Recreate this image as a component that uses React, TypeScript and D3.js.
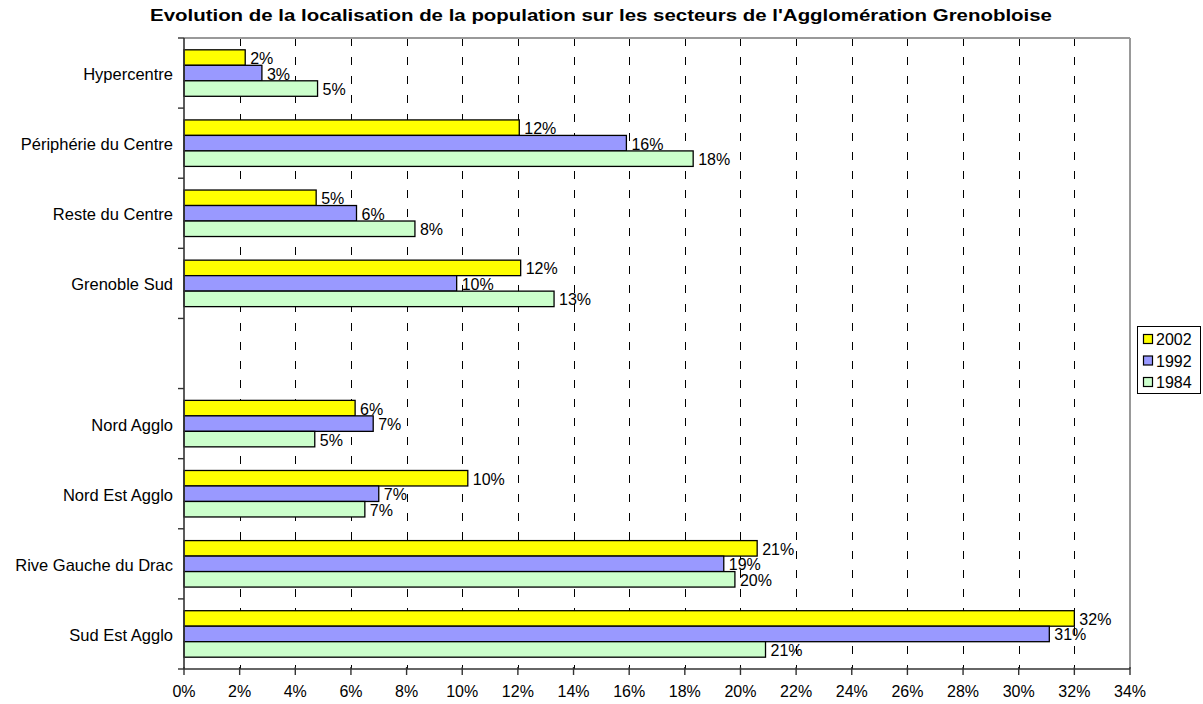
import React from "react";
import * as d3 from "d3";

const categories = [
  "Hypercentre",
  "Périphérie du Centre",
  "Reste du Centre",
  "Grenoble Sud",
  "",
  "Nord Agglo",
  "Nord Est Agglo",
  "Rive Gauche du Drac",
  "Sud Est Agglo",
];
const seriesNames = ["2002", "1992", "1984"];
const values2002 = [2.2, 12.05, 4.75, 12.1, null, 6.15, 10.2, 20.6, 32.0];
const values1992 = [2.8, 15.9, 6.2, 9.8, null, 6.8, 7.0, 19.4, 31.1];
const values1984 = [4.8, 18.3, 8.3, 13.3, null, 4.7, 6.5, 19.8, 20.9];
const seriesColors = ["#FFFF00", "#9999FF", "#CCFFCC"];
const xTickValues = [0, 2, 4, 6, 8, 10, 12, 14, 16, 18, 20, 22, 24, 26, 28, 30, 32, 34];
const title =
  "Evolution de la localisation de la population sur les secteurs de l'Agglomération Grenobloise";

const W = 1203;
const H = 704;
const FONT = "Arial, 'Liberation Sans', sans-serif";

export default function App() {
  const left = 184;
  const right = 1130;
  const top = 38;
  const bottom = 669;

  const series = [values2002, values1992, values1984];

  const x = d3.scaleLinear().domain([0, 34]).range([left, right]);
  const y = d3
    .scaleBand<number>()
    .domain(categories.map((_, i) => i))
    .range([top, bottom])
    .paddingInner(0.337)
    .paddingOuter(0.1685);
  const ySub = d3.scaleBand<string>().domain(seriesNames).range([0, y.bandwidth()]);
  const step = y.step();

  const boundaries = d3.range(categories.length + 1).map((i) => top + i * step);

  return (
    <svg
      width={W}
      height={H}
      style={{ position: "absolute", left: 0, top: 0, background: "#fff" }}
      fontFamily={FONT}
    >
      <rect x={0} y={0} width={W} height={H} fill="#fff" />
      <text
        x={150}
        y={21}
        fontSize={17}
        fontWeight="bold"
        fill="#000"
        textLength={902}
        lengthAdjust="spacingAndGlyphs"
      >
        {title}
      </text>

      {/* gridlines */}
      {xTickValues
        .filter((t) => t > 0 && t < 34)
        .map((t) => (
          <line
            key={"g" + t}
            x1={Math.round(x(t)) + 0.5}
            x2={Math.round(x(t)) + 0.5}
            y1={top}
            y2={bottom}
            stroke="#000"
            strokeWidth={1}
            strokeDasharray="8,11"
          />
        ))}

      {/* plot border top/right */}
      <line x1={left} x2={right} y1={top} y2={top} stroke="#999" strokeWidth={2} />
      <line x1={right} x2={right} y1={top} y2={bottom} stroke="#999" strokeWidth={2} />

      {/* bars */}
      {series.map((vals, si) =>
        vals.map((v, ci) => {
          if (v === null) return null;
          const by = (y(ci) as number) + (ySub(seriesNames[si]) as number);
          return (
            <rect
              key={"b" + si + "-" + ci}
              x={x(0)}
              y={by}
              width={x(v) - x(0)}
              height={ySub.bandwidth()}
              fill={seriesColors[si]}
              stroke="#000"
              strokeWidth={1.3}
            />
          );
        })
      )}

      {/* value labels */}
      {series.map((vals, si) =>
        vals.map((v, ci) => {
          if (v === null) return null;
          const by = (y(ci) as number) + (ySub(seriesNames[si]) as number);
          return (
            <text
              key={"l" + si + "-" + ci}
              x={x(v) + 5}
              y={by + ySub.bandwidth() / 2 + 1}
              dominantBaseline="central"
              fontSize={16}
              fill="#000"
            >
              {Math.round(v) + "%"}
            </text>
          );
        })
      )}

      {/* axes */}
      <line x1={left} x2={left} y1={top} y2={bottom} stroke="#333" strokeWidth={1.6} />
      <line x1={left} x2={right} y1={bottom} y2={bottom} stroke="#333" strokeWidth={1.6} />
      {boundaries.map((b, i) => (
        <line key={"yt" + i} x1={left - 6} x2={left} y1={b} y2={b} stroke="#333" strokeWidth={1.4} />
      ))}
      {xTickValues.map((t) => (
        <g key={"xt" + t}>
          <line
            x1={x(t)}
            x2={x(t)}
            y1={bottom - 2}
            y2={bottom + 6}
            stroke="#333"
            strokeWidth={1.4}
          />
          <text x={x(t)} y={697} textAnchor="middle" fontSize={16} fill="#000">
            {t + "%"}
          </text>
        </g>
      ))}

      {/* category labels */}
      {categories.map((c, i) => (
        <text
          key={"c" + i}
          x={173}
          y={(y(i) as number) + y.bandwidth() / 2 + 1}
          textAnchor="end"
          dominantBaseline="central"
          fontSize={16.5}
          fill="#000"
        >
          {c}
        </text>
      ))}

      {/* legend */}
      <rect x={1137.5} y={326.5} width={63} height={67} fill="#fff" stroke="#000" strokeWidth={1} />
      {seriesNames.map((s, i) => (
        <g key={"lg" + s}>
          <rect
            x={1143.5}
            y={334.5 + i * 21.5}
            width={9}
            height={9}
            fill={seriesColors[i]}
            stroke="#000"
            strokeWidth={1.2}
          />
          <text x={1156} y={339.5 + i * 21.5} dominantBaseline="central" fontSize={16} fill="#000">
            {s}
          </text>
        </g>
      ))}
    </svg>
  );
}
